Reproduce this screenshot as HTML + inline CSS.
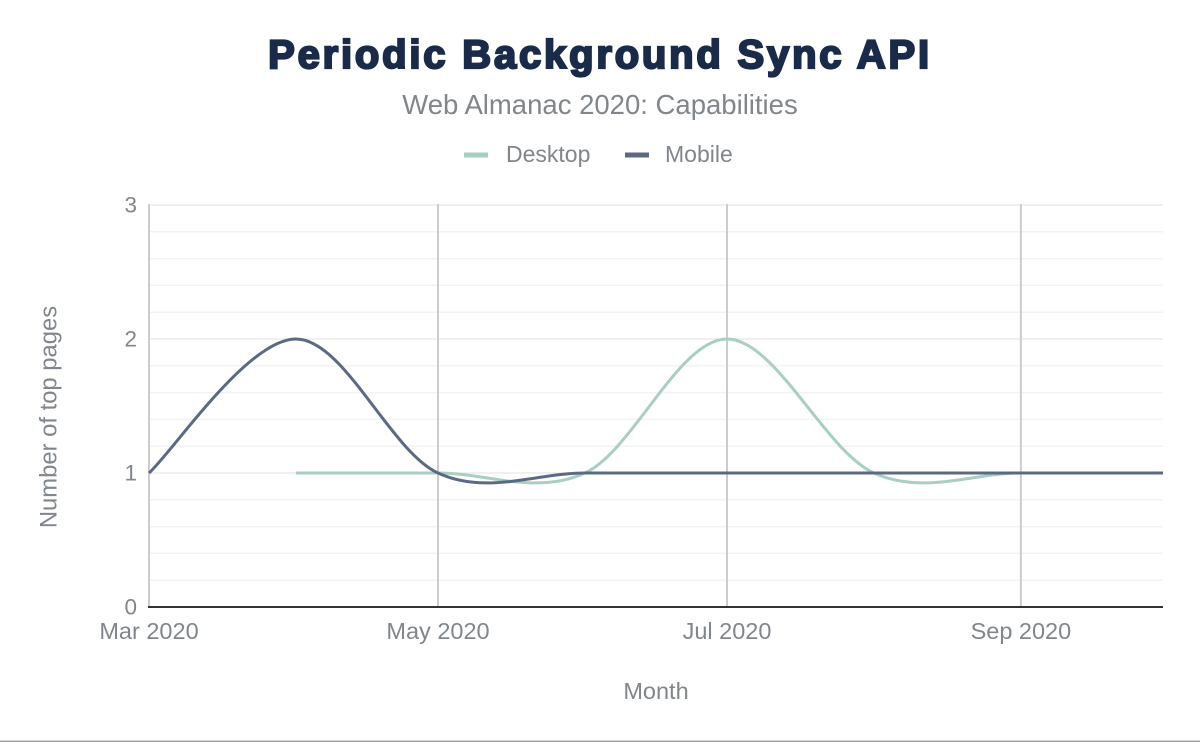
<!DOCTYPE html>
<html>
<head>
<meta charset="utf-8">
<style>
  html, body { margin: 0; padding: 0; background: #ffffff; }
  body { width: 1200px; height: 742px; overflow: hidden; }
  svg { display: block; }
  text { font-family: "Liberation Sans", Arial, sans-serif; }
</style>
</head>
<body>
<svg width="1200" height="742" viewBox="0 0 1200 742" xmlns="http://www.w3.org/2000/svg">
  <rect x="0" y="0" width="1200" height="742" fill="#ffffff"/>

  <!-- Title -->
  <text x="600" y="68" text-anchor="middle" font-size="40" font-weight="bold" fill="#1a2b49" stroke="#1a2b49" stroke-width="2.2" letter-spacing="2.8">Periodic Background Sync API</text>
  <!-- Subtitle -->
  <text x="600" y="114" text-anchor="middle" font-size="27.5" fill="#80868b">Web Almanac 2020: Capabilities</text>

  <!-- Legend -->
  <rect x="464" y="152.5" width="24" height="5" fill="#a8cfbf"/>
  <text x="506" y="162" font-size="23" fill="#80868b">Desktop</text>
  <rect x="625" y="152.5" width="24" height="5" fill="#5c6985"/>
  <text x="665" y="162" font-size="23" fill="#80868b">Mobile</text>

  <!-- Horizontal grid lines -->
  <g stroke="#f3f3f3" stroke-width="1.5">
    <line x1="149" y1="231.8" x2="1163" y2="231.8"/>
    <line x1="149" y1="258.6" x2="1163" y2="258.6"/>
    <line x1="149" y1="285.4" x2="1163" y2="285.4"/>
    <line x1="149" y1="312.2" x2="1163" y2="312.2"/>
    <line x1="149" y1="365.8" x2="1163" y2="365.8"/>
    <line x1="149" y1="392.6" x2="1163" y2="392.6"/>
    <line x1="149" y1="419.4" x2="1163" y2="419.4"/>
    <line x1="149" y1="446.2" x2="1163" y2="446.2"/>
    <line x1="149" y1="499.8" x2="1163" y2="499.8"/>
    <line x1="149" y1="526.6" x2="1163" y2="526.6"/>
    <line x1="149" y1="553.4" x2="1163" y2="553.4"/>
    <line x1="149" y1="580.2" x2="1163" y2="580.2"/>
  </g>
  <g stroke="#ebebeb" stroke-width="1.5">
    <line x1="149" y1="205" x2="1163" y2="205"/>
    <line x1="149" y1="339" x2="1163" y2="339"/>
    <line x1="149" y1="473" x2="1163" y2="473"/>
  </g>

  <!-- Vertical grid lines -->
  <g stroke="#cccccc" stroke-width="2">
    <line x1="149" y1="204" x2="149" y2="607"/>
    <line x1="438" y1="204" x2="438" y2="607"/>
    <line x1="727" y1="204" x2="727" y2="607"/>
    <line x1="1020.9" y1="204" x2="1020.9" y2="607"/>
  </g>

  <!-- Zero baseline -->
  <line x1="148" y1="607" x2="1163" y2="607" stroke="#333333" stroke-width="2"/>

  <!-- Desktop series -->
  <path d="M295.9,473 L438,473 C486.2,473 536.7,495.3 584.9,473 C633.1,450.7 678.8,339 727,339 C775.2,339 824.9,450.7 873.9,473 C922.9,495.3 972.7,473 1020.9,473 L1163,473"
        fill="none" stroke="#a8cfbf" stroke-width="3" stroke-linejoin="round"/>

  <!-- Mobile series -->
  <path d="M149,473 C173.5,450.7 247.7,339 295.9,339 C344.1,339 389.8,450.7 438,473 C486.2,495.3 536.7,473 584.9,473 L1163,473"
        fill="none" stroke="#5c6985" stroke-width="3" stroke-linejoin="round"/>

  <!-- Y tick labels -->
  <g font-size="22.5" fill="#80868b" text-anchor="end">
    <text x="137" y="212.5">3</text>
    <text x="137" y="346.5">2</text>
    <text x="137" y="480.5">1</text>
    <text x="137" y="614.5">0</text>
  </g>

  <!-- X tick labels -->
  <g font-size="23.5" fill="#80868b" text-anchor="middle">
    <text x="149" y="639">Mar 2020</text>
    <text x="438" y="639">May 2020</text>
    <text x="727" y="639">Jul 2020</text>
    <text x="1020.9" y="639">Sep 2020</text>
  </g>

  <!-- Axis titles -->
  <text x="656" y="699" text-anchor="middle" font-size="23.5" fill="#80868b">Month</text>
  <text transform="translate(56.5,417) rotate(-90)" x="0" y="0" text-anchor="middle" font-size="23.8" fill="#80868b">Number of top pages</text>

  <!-- Bottom border -->
  <line x1="0" y1="741.3" x2="1200" y2="741.3" stroke="#9a9a9a" stroke-width="1.4"/>
</svg>
</body>
</html>
